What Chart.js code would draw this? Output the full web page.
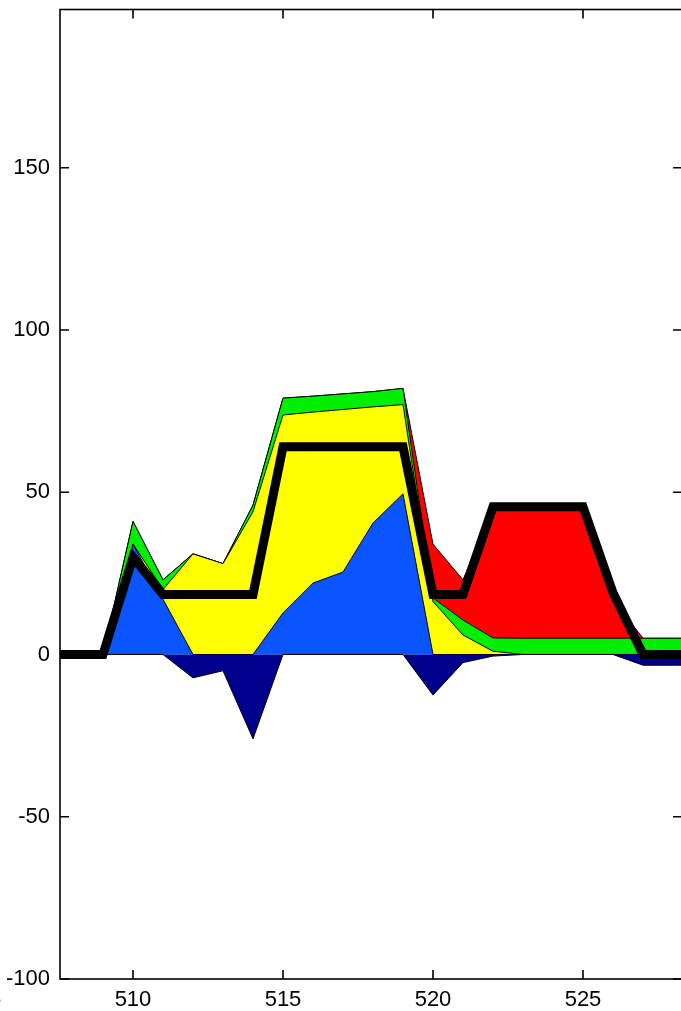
<!DOCTYPE html>
<html><head><meta charset="utf-8">
<script src="https://cdn.jsdelivr.net/npm/chart.js@4.4.1/dist/chart.umd.min.js"></script>
<style>html,body{margin:0;padding:0;overflow:hidden;background:#fff}canvas{display:block}</style>
</head><body>
<canvas id="c" width="690" height="1011" style="width:690px;height:1011px"></canvas>
<script>
// ---- data ----
const xValues   = [507,508,509,510,511,512,513,514,515,516,517,518,519,520,521,522,523,524,525,526,527,528,529];
const navyVals  = [0,0,0,0,0,-7.2,-5,-26,0,0,0,0,0,-12.5,-2.5,-0.5,0,0,0,0,-3.3,-3.3,-3.3];
const blueVals  = [0,0,0,34,17,0,0,0,12.8,22,25.4,40.5,49.5,0,0,0,0,0,0,0,0,0,0];
const yellowVals= [0,0,0,0,3,31,28,44,61,52.7,50.1,35.8,27.5,16.3,6,1,0,0,0,0,0,0,0];
const greenVals = [0,0,0,7,3,0,0,2,5.2,4.9,4.8,4.7,5,1.1,4.6,4.1,5,5,5,5,5,5,5];
const redVals   = [0,0,0,0,0,0,0,0,0,0,0,0,0,16.6,12.4,39.4,39.5,39.5,39.5,12,0,0,0];
const lineVals  = [0,0,0,30,18.5,18.5,18.5,18.5,64,64,64,64,64,18.5,18.5,45.5,45.5,45.5,45.5,19,0,0,0];
const xTicks = [505,510,515,520,525];
const yTicks = [-100,-50,0,50,100,150];

const pts = arr => arr.map((v,i)=>({x:xValues[i], y:v}));
const area = (label, vals, color, fill, stack) => ({
  label, data: pts(vals), backgroundColor: color, borderColor:'#000', borderWidth:1,
  fill, stack, pointRadius:0, tension:0, clip:0, order:0
});

const FONT = '"Liberation Sans", Arial, sans-serif';

const frame = {
  id:'frame',
  afterDatasetsDraw(chart){
    const {ctx, chartArea:a, scales:{x,y}} = chart;
    ctx.save();
    ctx.strokeStyle='#000'; ctx.lineWidth=1.6;
    ctx.strokeRect(a.left, a.top, a.right-a.left, a.bottom-a.top);
    const L=9;
    ctx.beginPath();
    xTicks.forEach(v=>{const p=x.getPixelForValue(v); if(p<a.left||p>a.right) return;
      ctx.moveTo(p,a.top); ctx.lineTo(p,a.top+L); ctx.moveTo(p,a.bottom); ctx.lineTo(p,a.bottom-L);});
    yTicks.forEach(v=>{const p=y.getPixelForValue(v);
      ctx.moveTo(a.left,p); ctx.lineTo(a.left+L,p); ctx.moveTo(a.right,p); ctx.lineTo(a.right-L,p);});
    ctx.stroke();
    ctx.font='22px '+FONT; ctx.fillStyle='#000'; ctx.textAlign='center'; ctx.textBaseline='alphabetic';
    xTicks.forEach(v=>{const p=x.getPixelForValue(v); ctx.fillText(String(v), p, a.bottom+27);});
    ctx.restore();
  }
};

const noPad = s => { s.paddingTop = 0; s.paddingBottom = 0; s.paddingLeft = 0; s.paddingRight = 0; };

new Chart(document.getElementById('c'), {
  type:'line',
  data:{ datasets:[
    area('navy', navyVals, '#00008c', 'origin', 'neg'),
    area('blue', blueVals, '#0a55ff', 'origin', 'pos'),
    area('yellow', yellowVals, '#ffff00', '-1', 'pos'),
    area('green', greenVals, '#00ee00', '-1', 'pos'),
    area('red', redVals, '#ff0000', '-1', 'pos'),
    { label:'line', data:pts(lineVals), borderColor:'#000', borderWidth:9, fill:false, stack:'line',
      pointRadius:0, tension:0, clip:0, order:-1, borderJoinStyle:'miter', borderCapStyle:'butt' }
  ]},
  options:{
    responsive:false, animation:false, devicePixelRatio:1,
    layout:{ padding:{ left:0, right:8, top:9.5, bottom:0 } },
    plugins:{ legend:{display:false}, tooltip:{enabled:false} },
    scales:{
      x:{ type:'linear', min:507.567, max:528.3, stacked:false,
          grid:{display:false, drawTicks:false}, border:{display:false},
          ticks:{display:false, stepSize:5, includeBounds:false},
          afterFit(s){ s.height = 32; noPad(s); } },
      y:{ type:'linear', min:-100, max:198.75, stacked:true,
          grid:{display:false, drawTicks:false}, border:{display:false},
          ticks:{ stepSize:50, includeBounds:false, padding:10, color:'#000', font:{family:FONT, size:22} },
          afterBuildTicks(s){ s.ticks = yTicks.map(v=>({value:v})); },
          afterFit(s){ s.width = 60; noPad(s); } }
    }
  },
  plugins:[frame]
});
</script>
</body></html>
